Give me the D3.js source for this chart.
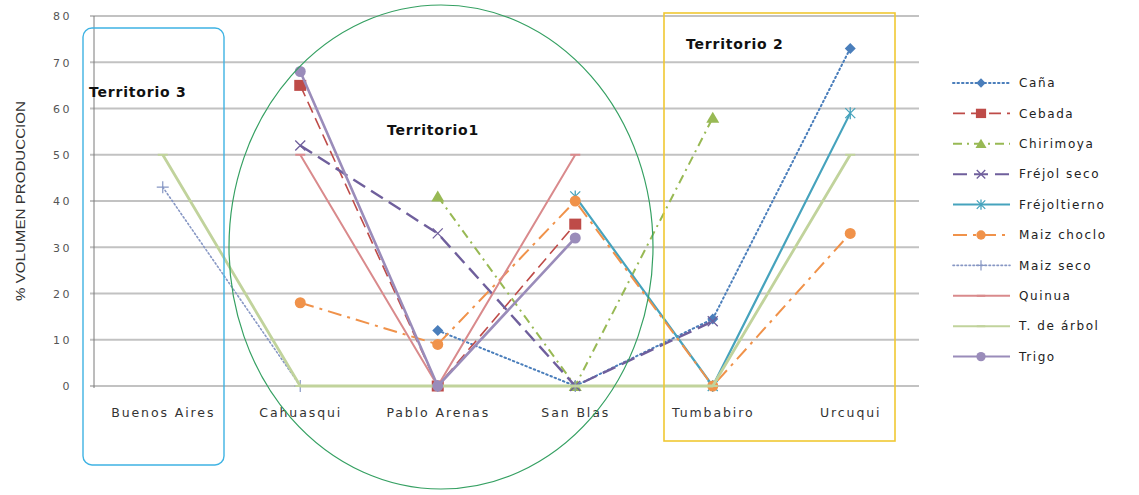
<!DOCTYPE html>
<html><head><meta charset="utf-8">
<script src="https://cdn.jsdelivr.net/npm/d3@7"></script>
<style>body{margin:0;background:#fff}svg{display:block}</style>
</head><body>
<svg id="c" width="1139" height="495"></svg>
<script>
const categories = ["Buenos Aires","Cahuasqui","Pablo Arenas","San Blas","Tumbabiro","Urcuqui"];
const seriesNames = ["Caña","Cebada","Chirimoya","Fréjol seco","Fréjoltierno","Maiz choclo","Maiz seco","Quinua","T. de árbol","Trigo"];
const cana        = [null, null, 12, 0, 14.5, 73];
const cebada      = [null, 65, 0, 35, null, null];
const chirimoya   = [null, null, 41, 0, 58, null];
const frejolSeco  = [null, 52, 33, 0, 14, null];
const frejolTierno= [null, null, null, 41, 0, 59];
const maizChoclo  = [null, 18, 9, 40, 0, 33];
const maizSeco    = [43, 0, 0, 0, null, null];
const quinua      = [null, 50, 0, 50, null, null];
const tArbol      = [50, 0, 0, 0, 0, 50];
const trigo       = [null, 68, 0, 32, null, null];
const yTicks = [0,10,20,30,40,50,60,70,80];
const territories = ["Territorio 3","Territorio1","Territorio 2"];

const values = [cana,cebada,chirimoya,frejolSeco,frejolTierno,maizChoclo,maizSeco,quinua,tArbol,trigo];
const styles = [
 {c:"#4a7ebb", w:2,   dash:"1.5,3", cap:"round", m:"diamond"},
 {c:"#be4b48", w:1.6, dash:"12,6", m:"square"},
 {c:"#98b954", w:2,   dash:"9,5,2,5", m:"triangle"},
 {c:"#6f5f9c", w:2.4, dash:"14,7", m:"x"},
 {c:"#46a3bd", w:2.2, dash:null, m:"star"},
 {c:"#f0924a", w:2,   dash:"14,6,3,6", m:"circle"},
 {c:"#8797c4", w:1.6, dash:"1.5,2.5", cap:"round", m:"plus"},
 {c:"#d98a8c", w:2,   dash:null, m:"dash"},
 {c:"#c1d39c", w:2.8, dash:null, m:"dash"},
 {c:"#9a8cba", w:2.6, dash:null, m:"circle"}
];

const svg = d3.select("#c");
const x = d3.scalePoint().domain(categories).range([94,919]).padding(0.5);
const y = d3.scaleLinear().domain([0,80]).range([386,16]);

// gridlines
svg.append("g").selectAll("line").data(yTicks).join("line")
  .attr("x1",90).attr("x2",919).attr("y1",d=>y(d)).attr("y2",d=>y(d))
  .attr("stroke","#c2c2c2").attr("stroke-width",2);
svg.append("line").attr("x1",94).attr("x2",94).attr("y1",y(80)).attr("y2",y(0)+2)
  .attr("stroke","#7a7a7a").attr("stroke-width",1);

// y axis
const yAxis = d3.axisLeft(y).tickValues(yTicks).tickSize(0).tickPadding(0);
const gy = svg.append("g").attr("transform","translate(72,0)").call(yAxis);
gy.select(".domain").remove();
gy.selectAll("text").attr("font-family","DejaVu Sans").attr("font-size",11)
  .attr("fill","#555").attr("letter-spacing",2.5).attr("dy","0.35em");

// x axis
const xAxis = d3.axisBottom(x).tickSize(0).tickPadding(0);
const gx = svg.append("g").attr("transform","translate(0,408)").call(xAxis);
gx.select(".domain").remove();
gx.selectAll("text").attr("font-family","DejaVu Sans").attr("font-size",12.5)
  .attr("fill","#333").attr("letter-spacing",1.9);

// axis title
svg.append("text").attr("transform","translate(25,201) rotate(-90)")
  .attr("text-anchor","middle").attr("font-family","Liberation Sans")
  .attr("font-size",12.5).attr("fill","#333")
  .attr("textLength",200).attr("lengthAdjust","spacingAndGlyphs")
  .text("% VOLUMEN PRODUCCION");

function marker(g, type, cx, cy, color, s) {
  s = s || 1;
  if (type==="diamond") g.append("path").attr("d",`M${cx},${cy-5.5*s}L${cx+5.5*s},${cy}L${cx},${cy+5.5*s}L${cx-5.5*s},${cy}Z`).attr("fill",color);
  else if (type==="square") g.append("rect").attr("x",cx-6*s).attr("y",cy-5.5*s).attr("width",12*s).attr("height",11*s).attr("fill",color);
  else if (type==="triangle") g.append("path").attr("d",`M${cx},${cy-6*s}L${cx+6.5*s},${cy+5*s}L${cx-6.5*s},${cy+5*s}Z`).attr("fill",color);
  else if (type==="circle") g.append("circle").attr("cx",cx).attr("cy",cy).attr("r",5.5*s).attr("fill",color);
  else if (type==="x") g.append("path").attr("d",`M${cx-5*s},${cy-5*s}L${cx+5*s},${cy+5*s}M${cx-5*s},${cy+5*s}L${cx+5*s},${cy-5*s}`).attr("stroke",color).attr("stroke-width",1.3).attr("fill","none");
  else if (type==="star") g.append("path").attr("d",`M${cx-5*s},${cy-5*s}L${cx+5*s},${cy+5*s}M${cx-5*s},${cy+5*s}L${cx+5*s},${cy-5*s}M${cx},${cy-6*s}L${cx},${cy+6*s}`).attr("stroke",color).attr("stroke-width",1.3).attr("fill","none");
  else if (type==="plus") g.append("path").attr("d",`M${cx-6*s},${cy}L${cx+6*s},${cy}M${cx},${cy-6*s}L${cx},${cy+6*s}`).attr("stroke",color).attr("stroke-width",1.2).attr("fill","none");
  else if (type==="dash") g.append("path").attr("d",`M${cx-5*s},${cy}L${cx+5*s},${cy}`).attr("stroke",color).attr("stroke-width",2).attr("fill","none");
}

const line = d3.line().defined(d=>d.v!==null).x(d=>x(d.c)).y(d=>y(d.v));
const plot = svg.append("g");
values.forEach((vals,i)=>{
  const st = styles[i];
  const pts = vals.map((v,j)=>({c:categories[j],v}));
  plot.append("path").datum(pts).attr("d",line).attr("fill","none")
    .attr("stroke",st.c).attr("stroke-width",st.w)
    .attr("stroke-dasharray",st.dash).attr("stroke-linecap",st.cap||"butt")
    .attr("stroke-linejoin","round");
  const mg = plot.append("g");
  pts.filter(p=>p.v!==null).forEach(p=>marker(mg, st.m, x(p.c), y(p.v), st.c));
});

// legend
const lg = svg.append("g");
seriesNames.forEach((name,i)=>{
  const st = styles[i];
  const ly = 83 + i*30.4;
  lg.append("line").attr("x1",953).attr("x2",1010).attr("y1",ly).attr("y2",ly)
    .attr("stroke",st.c).attr("stroke-width",Math.min(st.w,2))
    .attr("stroke-dasharray",st.dash).attr("stroke-linecap",st.cap||"butt");
  marker(lg, st.m, 981, ly, st.c, 0.85);
  lg.append("text").attr("x",1019).attr("y",ly).attr("dy","0.35em")
    .attr("font-family","DejaVu Sans").attr("font-size",12).attr("letter-spacing",1.6)
    .attr("fill","#222").text(name);
});

// territory annotations
svg.append("rect").attr("x",83).attr("y",28).attr("width",141).attr("height",437)
  .attr("rx",9).attr("fill","none").attr("stroke","#3fb3e3").attr("stroke-width",1.4);
svg.append("ellipse").attr("cx",441).attr("cy",247).attr("rx",212).attr("ry",242)
  .attr("fill","none").attr("stroke","#35a062").attr("stroke-width",1.2);
svg.append("rect").attr("x",664).attr("y",13).attr("width",231).attr("height",428)
  .attr("fill","none").attr("stroke","#f0c832").attr("stroke-width",1.6);

const tpos = [[89,97],[387,135],[686,49]];
territories.forEach((t,i)=>{
  svg.append("text").attr("x",tpos[i][0]).attr("y",tpos[i][1])
    .attr("font-family","DejaVu Sans").attr("font-weight","bold").attr("font-size",14)
    .attr("letter-spacing",0.8).attr("fill","#111").text(t);
});
</script>
</body></html>
